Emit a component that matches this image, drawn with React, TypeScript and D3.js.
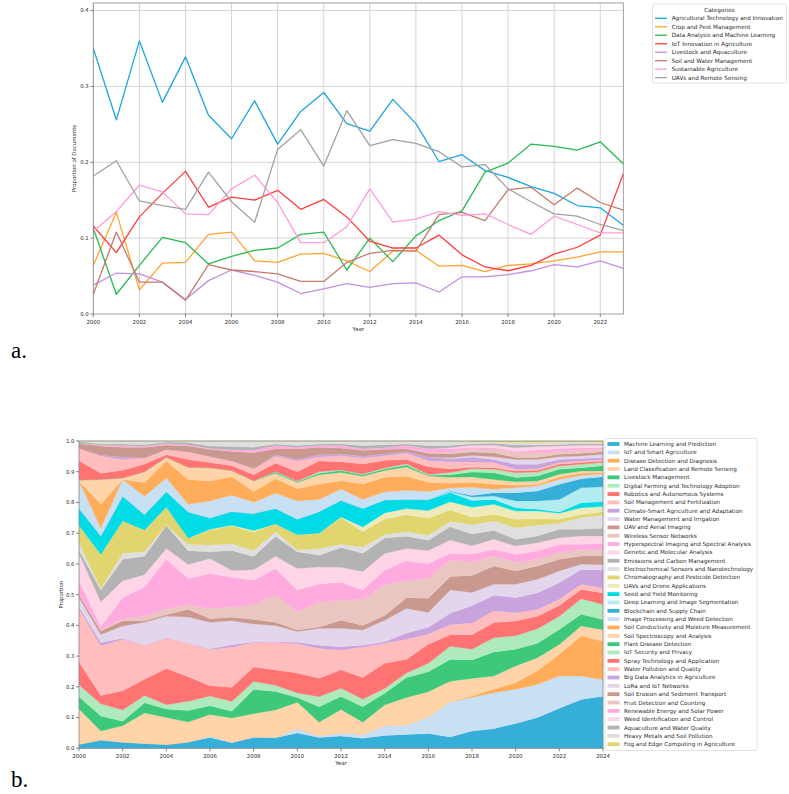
import * as d3 from "d3";

// ---------- panel a: topic proportions by year ----------
const yearsA = [2000, 2001, 2002, 2003, 2004, 2005, 2006, 2007, 2008, 2009, 2010, 2011, 2012, 2013, 2014, 2015, 2016, 2017, 2018, 2019, 2020, 2021, 2022, 2023];

const agTech = [0.350, 0.256, 0.360, 0.279, 0.339, 0.262, 0.231, 0.281, 0.224, 0.267, 0.292, 0.251, 0.241, 0.283, 0.251, 0.201, 0.210, 0.189, 0.180, 0.168, 0.159, 0.143, 0.140, 0.117];
const cropPest = [0.064, 0.134, 0.032, 0.067, 0.068, 0.105, 0.108, 0.070, 0.068, 0.079, 0.080, 0.070, 0.056, 0.083, 0.084, 0.063, 0.064, 0.056, 0.064, 0.066, 0.070, 0.075, 0.082, 0.082];
const dataMl = [0.113, 0.026, 0.064, 0.101, 0.094, 0.066, 0.076, 0.084, 0.087, 0.105, 0.108, 0.058, 0.100, 0.069, 0.103, 0.123, 0.136, 0.187, 0.199, 0.224, 0.221, 0.216, 0.227, 0.198];
const iotAg = [0.116, 0.081, 0.128, 0.159, 0.188, 0.141, 0.154, 0.150, 0.163, 0.138, 0.151, 0.128, 0.096, 0.087, 0.087, 0.104, 0.078, 0.062, 0.057, 0.064, 0.079, 0.088, 0.104, 0.185];
const livestock = [0.038, 0.054, 0.053, 0.042, 0.019, 0.044, 0.058, 0.051, 0.042, 0.027, 0.033, 0.040, 0.035, 0.040, 0.041, 0.029, 0.049, 0.049, 0.052, 0.057, 0.065, 0.062, 0.070, 0.060];
const soilWater = [0.026, 0.108, 0.042, 0.042, 0.018, 0.065, 0.058, 0.056, 0.053, 0.043, 0.043, 0.068, 0.080, 0.084, 0.083, 0.131, 0.134, 0.123, 0.164, 0.167, 0.144, 0.166, 0.147, 0.137];
const sustainable = [0.109, 0.135, 0.170, 0.161, 0.132, 0.131, 0.165, 0.183, 0.147, 0.094, 0.094, 0.115, 0.165, 0.121, 0.125, 0.135, 0.130, 0.132, 0.118, 0.105, 0.129, 0.118, 0.107, 0.107];
const uavs = [0.182, 0.202, 0.149, 0.143, 0.138, 0.187, 0.148, 0.121, 0.217, 0.243, 0.195, 0.268, 0.222, 0.230, 0.225, 0.214, 0.194, 0.197, 0.165, 0.148, 0.132, 0.129, 0.118, 0.110];

const seriesA = [
  { name: "Agricultural Technology and Innovation", color: "#1ba6dc", values: agTech },
  { name: "Crop and Pest Management", color: "#ffa32e", values: cropPest },
  { name: "Data Analysis and Machine Learning", color: "#27bb52", values: dataMl },
  { name: "IoT Innovation in Agriculture", color: "#ff3d3d", values: iotAg },
  { name: "Livestock and Aquaculture", color: "#c48fe0", values: livestock },
  { name: "Soil and Water Management", color: "#c57a6c", values: soilWater },
  { name: "Sustainable Agriculture", color: "#ff9ade", values: sustainable },
  { name: "UAVs and Remote Sensing", color: "#a2a2a2", values: uavs },
];
const yTicksA = [0, 0.1, 0.2, 0.3, 0.4];
const xTicksA = [2000, 2002, 2004, 2006, 2008, 2010, 2012, 2014, 2016, 2018, 2020, 2022];

// ---------- panel b: stacked topic shares ----------
const yearsB = [2000, 2001, 2002, 2003, 2004, 2005, 2006, 2007, 2008, 2009, 2010, 2011, 2012, 2013, 2014, 2015, 2016, 2017, 2018, 2019, 2020, 2021, 2022, 2023, 2024];

const topicsB = [
  "Machine Learning and Prediction", "IoT and Smart Agriculture", "Disease Detection and Diagnosis",
  "Land Classification and Remote Sensing", "Livestock Management", "Digital Farming and Technology Adoption",
  "Robotics and Autonomous Systems", "Soil Management and Fertilization", "Climate-Smart Agriculture and Adaptation",
  "Water Management and Irrigation", "UAV and Aerial Imaging", "Wireless Sensor Networks",
  "Hyperspectral Imaging and Spectral Analysis", "Genetic and Molecular Analysis", "Emissions and Carbon Management",
  "Electrochemical Sensors and Nanotechnology", "Chromatography and Pesticide Detection", "UAVs and Drone Applications",
  "Seed and Yield Monitoring", "Deep Learning and Image Segmentation", "Blockchain and Supply Chain",
  "Image Processing and Weed Detection", "Soil Conductivity and Moisture Measurement", "Soil Spectroscopy and Analysis",
  "Plant Disease Detection", "IoT Security and Privacy", "Spray Technology and Application",
  "Water Pollution and Quality", "Big Data Analytics in Agriculture", "LoRa and IoT Networks",
  "Soil Erosion and Sediment Transport", "Fruit Detection and Counting", "Renewable Energy and Solar Power",
  "Weed Identification and Control", "Aquaculture and Water Quality", "Heavy Metals and Soil Pollution",
  "Fog and Edge Computing in Agriculture",
];

// one row per topic, 2000..2024
const sharesB = [
  [0.013, 0.027, 0.020, 0.016, 0.012, 0.020, 0.035, 0.018, 0.035, 0.034, 0.050, 0.035, 0.040, 0.033, 0.042, 0.045, 0.048, 0.037, 0.056, 0.064, 0.081, 0.100, 0.130, 0.159, 0.170],
  [0, 0, 0, 0, 0, 0, 0.005, 0.002, 0.002, 0.002, 0.015, 0.005, 0.011, 0.012, 0.031, 0.030, 0.054, 0.115, 0.109, 0.117, 0.111, 0.108, 0.105, 0.076, 0.054],
  [0, 0, 0, 0, 0, 0, 0, 0, 0, 0, 0, 0, 0, 0, 0, 0, 0, 0, 0.005, 0.011, 0.022, 0.044, 0.071, 0.131, 0.125],
  [0.115, 0.029, 0.053, 0.099, 0.088, 0.065, 0.070, 0.078, 0.076, 0.089, 0.085, 0.045, 0.076, 0.040, 0.068, 0.090, 0.082, 0.067, 0.057, 0.043, 0.054, 0.043, 0.032, 0.032, 0.038],
  [0.040, 0.049, 0.015, 0.033, 0.028, 0.037, 0.028, 0.022, 0.079, 0.060, 0.015, 0.050, 0.043, 0.050, 0.038, 0.065, 0.065, 0.071, 0.060, 0.078, 0.054, 0.047, 0.049, 0.038, 0.033],
  [0.038, 0.040, 0.037, 0.024, 0.014, 0.030, 0.032, 0.032, 0.026, 0.020, 0.015, 0.033, 0.027, 0.025, 0.016, 0.015, 0.027, 0.043, 0.035, 0.047, 0.044, 0.047, 0.043, 0.051, 0.049],
  [0.074, 0.027, 0.062, 0.053, 0.118, 0.080, 0.033, 0.046, 0.047, 0.050, 0.065, 0.060, 0.060, 0.070, 0.082, 0.045, 0.062, 0.038, 0.047, 0.049, 0.048, 0.041, 0.035, 0.030, 0.038],
  [0.175, 0.161, 0.168, 0.110, 0.098, 0.108, 0.118, 0.130, 0.080, 0.090, 0.095, 0.097, 0.065, 0.100, 0.065, 0.065, 0.033, 0.032, 0.038, 0.038, 0.027, 0.022, 0.020, 0.017, 0.016],
  [0.006, 0.011, 0.003, 0, 0.002, 0, 0.002, 0.008, 0.002, 0.002, 0.005, 0.010, 0.011, 0.005, 0.005, 0.020, 0.022, 0.038, 0.056, 0.051, 0.049, 0.054, 0.054, 0.048, 0.059],
  [0.029, 0.026, 0.040, 0.075, 0.070, 0.085, 0.086, 0.078, 0.058, 0.053, 0.035, 0.055, 0.060, 0.050, 0.070, 0.080, 0.048, 0.076, 0.043, 0.036, 0.044, 0.044, 0.038, 0.017, 0.017],
  [0.010, 0.012, 0.017, 0.005, 0.005, 0.025, 0.012, 0.011, 0.015, 0.010, 0.005, 0.005, 0.027, 0.015, 0.015, 0.035, 0.046, 0.044, 0.055, 0.059, 0.043, 0.043, 0.038, 0.027, 0.029],
  [0, 0.005, 0.005, 0.015, 0.020, 0.013, 0.033, 0.033, 0.048, 0.090, 0.060, 0.080, 0.065, 0.085, 0.100, 0.055, 0.065, 0.054, 0.043, 0.033, 0.027, 0.022, 0.022, 0.021, 0.020],
  [0.045, 0.009, 0.070, 0.095, 0.160, 0.087, 0.114, 0.097, 0.080, 0.085, 0.070, 0.060, 0.059, 0.030, 0.048, 0.065, 0.047, 0.022, 0.027, 0.021, 0.027, 0.027, 0.027, 0.017, 0.021],
  [0.089, 0.081, 0.055, 0.040, 0.035, 0.045, 0.048, 0.022, 0.034, 0.040, 0.070, 0.055, 0.049, 0.060, 0.054, 0.040, 0.043, 0.043, 0.027, 0.033, 0.027, 0.027, 0.021, 0.027, 0.024],
  [0.011, 0.038, 0.070, 0.060, 0.075, 0.045, 0.022, 0.065, 0.043, 0.065, 0.055, 0.038, 0.065, 0.060, 0.050, 0.040, 0.034, 0.043, 0.038, 0.029, 0.022, 0.022, 0.028, 0.022, 0.025],
  [0.025, 0.005, 0.020, 0.015, 0.002, 0.020, 0.022, 0.022, 0.020, 0.015, 0.005, 0.022, 0.011, 0.020, 0.012, 0.015, 0.016, 0.017, 0.030, 0.031, 0.038, 0.035, 0.019, 0.038, 0.043],
  [0.055, 0.111, 0.105, 0.070, 0.058, 0.020, 0.049, 0.058, 0.060, 0.025, 0.050, 0.050, 0.087, 0.050, 0.050, 0.055, 0.055, 0.038, 0.024, 0.021, 0.027, 0.021, 0.013, 0.010, 0.011],
  [0, 0, 0, 0, 0, 0, 0.002, 0.002, 0.005, 0, 0, 0, 0.002, 0.015, 0.020, 0.020, 0.025, 0.027, 0.033, 0.033, 0.027, 0.025, 0.020, 0.022, 0.017],
  [0.055, 0.060, 0.080, 0.050, 0.050, 0.085, 0.037, 0.044, 0.055, 0.050, 0.050, 0.070, 0.054, 0.060, 0.042, 0.030, 0.035, 0.030, 0.022, 0.016, 0.011, 0.006, 0.004, 0.016, 0.016],
  [0, 0, 0, 0, 0, 0, 0, 0, 0, 0, 0, 0, 0, 0, 0, 0, 0, 0.003, 0.011, 0.011, 0.022, 0.027, 0.041, 0.049, 0.049],
  [0, 0, 0, 0, 0, 0, 0, 0, 0, 0, 0, 0, 0, 0, 0, 0, 0, 0.002, 0.005, 0.011, 0.027, 0.032, 0.049, 0.029, 0.032],
  [0.090, 0.025, 0.055, 0.060, 0.045, 0.025, 0.055, 0.053, 0.037, 0.050, 0.060, 0.040, 0.038, 0.030, 0.026, 0.030, 0.027, 0.010, 0.027, 0.011, 0.016, 0.017, 0.016, 0.011, 0.009],
  [0, 0.078, 0, 0.045, 0.055, 0.080, 0.065, 0.060, 0.035, 0.048, 0.040, 0.050, 0.027, 0.050, 0.048, 0.045, 0.030, 0.015, 0.016, 0.016, 0.008, 0.005, 0.008, 0.007, 0.004],
  [0.003, 0.081, 0.005, 0.035, 0.012, 0.040, 0.043, 0.020, 0.035, 0.017, 0.020, 0.030, 0.027, 0.025, 0.022, 0.030, 0.020, 0.020, 0.017, 0.016, 0.011, 0.011, 0.009, 0.007, 0.006],
  [0, 0, 0, 0, 0, 0, 0, 0, 0, 0.004, 0.003, 0.005, 0.006, 0.005, 0.005, 0.007, 0.003, 0.008, 0.016, 0.022, 0.014, 0.016, 0.016, 0.011, 0.017],
  [0, 0, 0, 0, 0, 0, 0, 0, 0, 0.002, 0.002, 0.005, 0.002, 0.003, 0.003, 0.004, 0.002, 0.007, 0.011, 0.011, 0.016, 0.013, 0.011, 0.011, 0.011],
  [0.063, 0.020, 0.025, 0.025, 0.008, 0.025, 0.017, 0.016, 0.020, 0.027, 0.030, 0.035, 0.027, 0.032, 0.025, 0.014, 0.025, 0.012, 0.005, 0.005, 0.005, 0.006, 0.005, 0.006, 0.005],
  [0.040, 0.056, 0.035, 0.020, 0.017, 0.025, 0.020, 0.015, 0.020, 0.022, 0.035, 0.013, 0.020, 0.020, 0.015, 0.020, 0.020, 0.023, 0.017, 0.017, 0.006, 0.005, 0.006, 0.005, 0.005],
  [0, 0.003, 0.008, 0, 0, 0, 0, 0, 0, 0.005, 0.005, 0.007, 0.005, 0.005, 0.006, 0.005, 0.012, 0.010, 0.016, 0.010, 0.016, 0.014, 0.010, 0.008, 0.006],
  [0, 0, 0, 0, 0, 0, 0, 0, 0, 0, 0, 0, 0, 0, 0, 0, 0, 0.003, 0.005, 0.009, 0.016, 0.016, 0.009, 0.008, 0.011],
  [0.016, 0.030, 0.032, 0.035, 0.015, 0.020, 0.023, 0.032, 0.052, 0.020, 0.035, 0.025, 0.020, 0.020, 0.015, 0.010, 0.012, 0.013, 0.011, 0.013, 0.006, 0.006, 0.008, 0.009, 0.008],
  [0, 0, 0, 0, 0, 0, 0, 0, 0, 0, 0, 0, 0, 0, 0, 0, 0.005, 0.005, 0.011, 0.011, 0.016, 0.016, 0.010, 0.011, 0.008],
  [0, 0.002, 0.005, 0.003, 0.005, 0.003, 0.003, 0.005, 0.008, 0.010, 0.005, 0.005, 0.008, 0.005, 0.005, 0.010, 0.010, 0.012, 0.005, 0.005, 0.005, 0.009, 0.008, 0.007, 0.005],
  [0, 0, 0, 0, 0, 0, 0, 0, 0, 0, 0, 0, 0, 0, 0, 0, 0, 0.003, 0.006, 0.008, 0.011, 0.011, 0.009, 0.008, 0.008],
  [0.006, 0.004, 0.005, 0.005, 0.005, 0.007, 0.008, 0.010, 0.010, 0.005, 0.005, 0.005, 0.005, 0.010, 0.010, 0.005, 0.010, 0.007, 0.005, 0.007, 0.009, 0.005, 0.005, 0.006, 0.005],
  [0.002, 0.010, 0.010, 0.012, 0.003, 0.005, 0.016, 0.018, 0.020, 0.010, 0.015, 0.010, 0.010, 0.015, 0.012, 0.010, 0.015, 0.015, 0.006, 0.004, 0.008, 0.008, 0.008, 0.005, 0.004],
  [0, 0, 0, 0, 0, 0, 0, 0, 0, 0, 0, 0, 0, 0, 0, 0, 0, 0, 0.003, 0.003, 0.005, 0.005, 0.003, 0.003, 0.005],
];

// 20-colour cycle, repeated for topics 21..37
const paletteB = [
  "#35aed8", "#c8e0f4", "#ffad5b", "#ffd4a8", "#3ec87a", "#afeabc", "#ff7373", "#ffbdbd", "#c9a3dd", "#e3d5eb",
  "#c9988e", "#e9c6c0", "#ffabdf", "#ffd4e7", "#b3b3b3", "#dfdfdf", "#e0d56f", "#eeeab9", "#00dbe6", "#b2ecf1",
];
const yTicksB = [0, 0.1, 0.2, 0.3, 0.4, 0.5, 0.6, 0.7, 0.8, 0.9, 1.0];
const xTicksB = [2000, 2002, 2004, 2006, 2008, 2010, 2012, 2014, 2016, 2018, 2020, 2022, 2024];

const FONT = "'DejaVu Sans', sans-serif";
const TICK = "#2b2b2b";

function LineChart() {
  const L = 93.3, R = 623.3, T = 3, B = 314;
  const x = d3.scaleLinear().domain([2000, 2023]).range([L, R]);
  const y = d3.scaleLinear().domain([0, 0.41]).range([B, T]);
  const line = d3.line<number>().x((_, i) => x(yearsA[i])).y((d) => y(d));

  return (
    <g fontFamily={FONT}>
      {yTicksA.slice(1).map((t) => (
        <line key={`gy${t}`} x1={L} x2={R} y1={y(t)} y2={y(t)} stroke="#d4d4d4" strokeWidth={1} />
      ))}
      {xTicksA.map((t) => (
        <line key={`gx${t}`} x1={x(t)} x2={x(t)} y1={T} y2={B} stroke="#d4d4d4" strokeWidth={1} />
      ))}
      {seriesA.map((s) => (
        <path key={s.name} d={line(s.values) ?? ""} fill="none" stroke={s.color} strokeWidth={1.3} strokeLinejoin="round" />
      ))}
      <rect x={L} y={T} width={R - L} height={B - T} fill="none" stroke="#8a8a8a" strokeWidth={0.8} />
      {yTicksA.map((t) => (
        <g key={`ty${t}`}>
          <line x1={L - 3} x2={L} y1={y(t)} y2={y(t)} stroke="#555" strokeWidth={0.7} />
          <text x={L - 4.5} y={y(t)} dy="0.35em" textAnchor="end" fontSize={5.4} fill={TICK}>{t.toFixed(1)}</text>
        </g>
      ))}
      {xTicksA.map((t) => (
        <g key={`tx${t}`}>
          <line x1={x(t)} x2={x(t)} y1={B} y2={B + 3} stroke="#555" strokeWidth={0.7} />
          <text x={x(t)} y={B + 9.5} textAnchor="middle" fontSize={5.4} fill={TICK}>{t}</text>
        </g>
      ))}
      <text x={(L + R) / 2} y={330.5} textAnchor="middle" fontSize={5.4} fill={TICK}>Year</text>
      <text transform={`translate(76,${(T + B) / 2}) rotate(-90)`} textAnchor="middle" fontSize={5.4} fill={TICK}>Proportion of Documents</text>

      {/* legend */}
      <rect x={652.5} y={4} width={134} height={79} rx={2} fill="#fff" stroke="#dcdcdc" strokeWidth={0.8} />
      <text x={719.5} y={10} dy="0.35em" textAnchor="middle" fontSize={5.7} fill={TICK}>Categories</text>
      {seriesA.map((s, i) => {
        const cy = 18.3 + i * 8.48;
        return (
          <g key={`lg${s.name}`}>
            <line x1={655} x2={667} y1={cy} y2={cy} stroke={s.color} strokeWidth={1.3} />
            <text x={671.7} y={cy} dy="0.35em" fontSize={5.7} fill={TICK}>{s.name}</text>
          </g>
        );
      })}
    </g>
  );
}

function StackChart() {
  const L = 79, R = 603, T = 441, B = 748.3;
  const x = d3.scaleLinear().domain([2000, 2024]).range([L, R]);
  const y = d3.scaleLinear().domain([0, 1]).range([B, T]);
  const color = d3.scaleOrdinal<string, string>().domain(topicsB).range(topicsB.map((_, i) => paletteB[i % paletteB.length]));

  const rows = yearsB.map((yr, j) => {
    const r: Record<string, number> = { year: yr };
    topicsB.forEach((k, i) => { r[k] = sharesB[i][j]; });
    return r;
  });
  const stacked = d3.stack<Record<string, number>>().keys(topicsB).offset(d3.stackOffsetExpand)(rows);
  const area = d3.area<d3.SeriesPoint<Record<string, number>>>()
    .x((d) => x(d.data.year))
    .y0((d) => y(d[0]))
    .y1((d) => y(d[1]));

  return (
    <g fontFamily={FONT}>
      {stacked.map((s) => (
        <path key={s.key} d={area(s) ?? ""} fill={color(s.key)} stroke={color(s.key)} strokeWidth={0.25} />
      ))}
      <rect x={L} y={T} width={R - L} height={B - T} fill="none" stroke="#8a8a8a" strokeWidth={0.8} />
      {yTicksB.map((t) => (
        <g key={`ty${t}`}>
          <line x1={L - 3} x2={L} y1={y(t)} y2={y(t)} stroke="#555" strokeWidth={0.7} />
          <text x={L - 4.5} y={y(t)} dy="0.35em" textAnchor="end" fontSize={5.4} fill={TICK}>{t.toFixed(1)}</text>
        </g>
      ))}
      {xTicksB.map((t) => (
        <g key={`tx${t}`}>
          <line x1={x(t)} x2={x(t)} y1={B} y2={B + 3} stroke="#555" strokeWidth={0.7} />
          <text x={x(t)} y={B + 9.5} textAnchor="middle" fontSize={5.4} fill={TICK}>{t}</text>
        </g>
      ))}
      <text x={(L + R) / 2} y={764.5} textAnchor="middle" fontSize={5.4} fill={TICK}>Year</text>
      <text transform={`translate(63,${(T + B) / 2}) rotate(-90)`} textAnchor="middle" fontSize={5.4} fill={TICK}>Proportion</text>

      {/* legend */}
      <rect x={605} y={438.5} width={152} height={312} rx={2} fill="#fff" stroke="#dcdcdc" strokeWidth={0.8} />
      {topicsB.map((k, i) => {
        const cy = 444 + i * 8.34;
        return (
          <g key={`lg${k}`}>
            <rect x={607.5} y={cy - 1.9} width={12} height={3.8} fill={color(k)} />
            <text x={624} y={cy} dy="0.35em" fontSize={5.65} fill={TICK}>{k}</text>
          </g>
        );
      })}
    </g>
  );
}

export default function App() {
  return (
    <div style={{ position: "absolute", left: 0, top: 0, width: 789, height: 794, background: "#fff" }}>
      <svg width={789} height={794} viewBox="0 0 789 794">
        <LineChart />
        <StackChart />
        <text x={11} y={358} fontFamily="'Liberation Serif', serif" fontSize={23} fill="#000">a.</text>
        <text x={11} y={787} fontFamily="'Liberation Serif', serif" fontSize={23} fill="#000">b.</text>
      </svg>
    </div>
  );
}
